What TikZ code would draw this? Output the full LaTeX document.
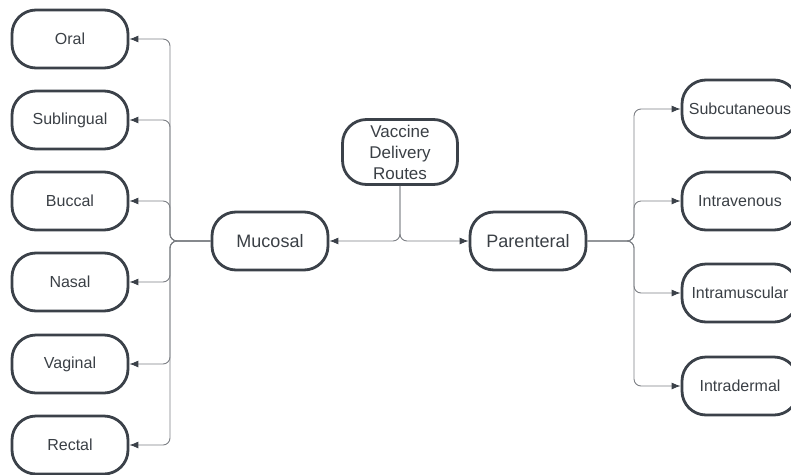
\documentclass[tikz,border=0pt]{standalone}
\usepackage{fontspec}
\setmainfont{Liberation Sans}
\usetikzlibrary{arrows.meta}
\definecolor{boxline}{HTML}{3B4149}
\definecolor{boxtext}{HTML}{3A3F45}
\definecolor{connline}{HTML}{7C7F84}
\tikzset{
	route/.style={draw=boxline,line width=2.8pt,rounded corners=24pt,minimum width=116pt,minimum height=58pt,inner sep=0pt,text=boxtext,font=\fontsize{16}{20}\selectfont},
	group/.style={route,font=\fontsize{18}{22}\selectfont},
	conn/.style={draw=connline,line width=0.9pt,rounded corners=7pt,-{Latex[length=9pt,width=7pt,color=boxline]}}
}
\begin{document}
\begin{tikzpicture}[x=1pt,y=-1pt]
\useasboundingbox (0,0) rectangle (791,474);
\node [route,minimum width=115pt,minimum height=65pt,align=center,font=\fontsize{17}{21}\selectfont] (root) at (400,152) {Vaccine\\Delivery\\Routes};
\node [group] (muc) at (270,241) {Mucosal};
\node [group] (par) at (528,241) {Parenteral};

\node [route] (oral)	at (70,39)	{Oral};
\node [route] (subl)	at (70,120)	{Sublingual};
\node [route] (bucc)	at (70,201)	{Buccal};
\node [route] (nasa)	at (70,282)	{Nasal};
\node [route] (vagi)	at (70,364)	{Vaginal};
\node [route] (rect)	at (70,445)	{Rectal};

\node [route] (subc)	at (740,109)	{Subcutaneous};
\node [route] (inve)	at (740,201)	{Intravenous};
\node [route] (inmu)	at (740,293)	{Intramuscular};
\node [route] (inde)	at (740,386)	{Intradermal};

\coordinate (mj) at (170,241);
\coordinate (pj) at (634,241);

\draw [conn] (root.south) |- (muc.east);
\draw [conn] (root.south) |- (par.west);

\foreach \leaf in {oral,subl,bucc,nasa,vagi,rect}
	\draw [conn] (muc.west) -- (mj) |- (\leaf.east);
\foreach \leaf in {subc,inve,inmu,inde}
	\draw [conn] (par.east) -- (pj) |- (\leaf.west);
\end{tikzpicture}
\end{document}
